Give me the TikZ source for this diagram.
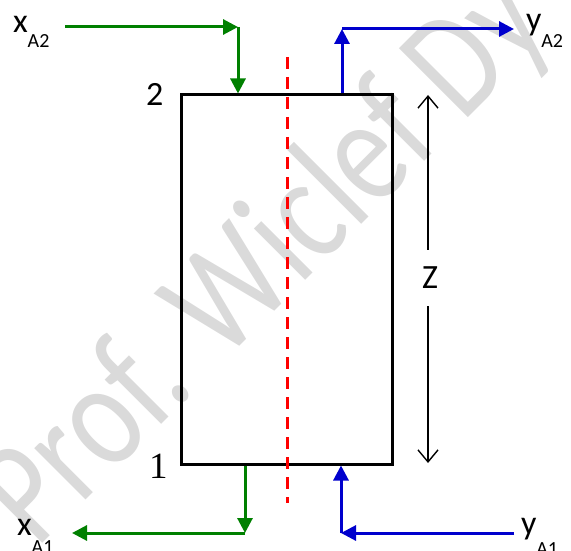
\documentclass[tikz,border=0pt]{standalone}
\usepackage{fontspec}
\setmainfont{Carlito}
\newfontfamily\serifnum{Liberation Serif}
\usetikzlibrary{arrows.meta}
\definecolor{flowgreen}{RGB}{0,128,0}
\definecolor{flowblue}{RGB}{0,0,205}
\definecolor{flowred}{RGB}{255,0,0}
\definecolor{wmgray}{RGB}{218,218,218}
\newcommand{\lblsub}[3]{#1\raisebox{-#3}{\fontsize{20pt}{20pt}\selectfont #2}}
\begin{document}
\begin{tikzpicture}[x=1pt,y=-1pt,
  lbl/.style={inner sep=0pt, outer sep=0pt, anchor=base west, font=\fontsize{34pt}{34pt}\selectfont},
  gflow/.style={draw=flowgreen, line width=3pt, -{Triangle[length=15pt,width=15pt]}},
  bflow/.style={draw=flowblue, line width=3pt, -{Triangle[length=15pt,width=15pt]}},
  zarrow/.style={draw=black, line width=1.4pt, -{Straight Barb[length=12pt,width=20pt,line width=1.4pt]}},
  column/.style={draw=black, line width=3pt, minimum width=211pt, minimum height=369pt, inner sep=0pt},
  axis/.style={draw=flowred, line width=3pt, dash pattern=on 12pt off 8pt}
]
\clip (0,0) rectangle (571,551);
% watermark
\node[inner sep=0pt, anchor=base west, rotate=45, text=wmgray, font=\fontsize{152pt}{152pt}\selectfont] (wm) at (36,550) {\scalebox{0.8}[1]{Prof. Wiclef Dy}};
% column
\node[column] (col) at (286.5,279.5) {};
% labels
\node[lbl] (n2) at (146,106) {2};
\node[lbl, font=\serifnum\fontsize{37pt}{37pt}\selectfont] (n1) at (149,478) {1};
\node[lbl] (xA2) at (13,33) {\lblsub{x}{A2}{15pt}};
\node[lbl] (xA1) at (17,535) {\lblsub{x}{A1}{18pt}};
\node[lbl] (yA2) at (526,31) {\lblsub{y}{A2}{17pt}};
\node[lbl] (yA1) at (521,534) {\lblsub{y}{A1}{21pt}};
\node[inner sep=0pt, font=\fontsize{34pt}{34pt}\selectfont] (Z) at (430,278) {Z};
% coordinates
\coordinate (g2s) at (65,27);
\coordinate (g2c) at (238,27);
\coordinate (b2c) at (342,29);
\coordinate (b2e) at (514,29);
\coordinate (g1c) at (245,533);
\coordinate (g1e) at (72,533);
\coordinate (b1s) at (514,533);
\coordinate (b1c) at (341,533);
\coordinate (zt) at (428,95);
\coordinate (zb) at (428,463);
\coordinate (rt) at (287,57);
\coordinate (rb) at (287,503);
% axis
\draw[axis] (rt) -- (rb);
% flows
\draw[gflow] (g2s) -- (g2c);
\draw[gflow] (g2c) -- (g2c |- col.north);
\draw[bflow] (b2c |- col.north) -- (b2c);
\draw[bflow] (b2c) -- (b2e);
\draw[gflow] (g1c |- col.south) -- (g1c);
\draw[gflow] (g1c) -- (g1e);
\draw[bflow] (b1s) -- (b1c);
\draw[bflow] (b1c) -- (b1c |- col.south);
% height
\draw[zarrow, shorten <=17pt] (zt |- Z.north) -- (zt);
\draw[zarrow, shorten <=17pt] (zb |- Z.south) -- (zb);
\end{tikzpicture}
\end{document}
